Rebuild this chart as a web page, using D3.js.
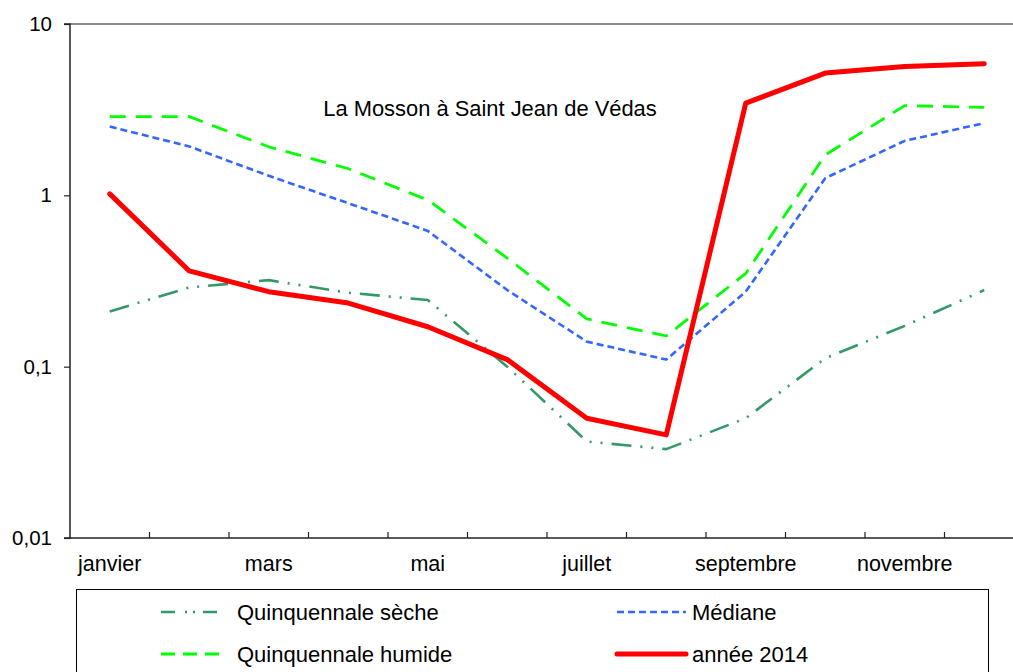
<!DOCTYPE html>
<html><head><meta charset="utf-8">
<script src="https://cdn.jsdelivr.net/npm/d3@7"></script>
<style>
html,body{margin:0;padding:0;background:#fff;overflow:hidden;}
text{font-family:"Liberation Sans",Arial,sans-serif;fill:#000;}
</style></head>
<body><svg id="c" width="1013" height="672"></svg>
<script>
const months = ["janvier","février","mars","avril","mai","juin","juillet","août","septembre","octobre","novembre","décembre"];
const monthLabels = ["janvier","","mars","","mai","","juillet","","septembre","","novembre",""];
const yTicks = [0.01, 0.1, 1, 10];
const yTickLabels = ["0,01","0,1","1","10"];
const seche = [0.21, 0.29, 0.32, 0.27, 0.245, 0.10, 0.0366, 0.033, 0.050, 0.112, 0.173, 0.28];
const mediane = [2.52, 1.93, 1.30, 0.90, 0.62, 0.28, 0.14, 0.11, 0.274, 1.26, 2.08, 2.64];
const humide = [2.88, 2.88, 1.92, 1.43, 0.94, 0.43, 0.19, 0.151, 0.35, 1.72, 3.34, 3.26];
const annee2014 = [1.02, 0.362, 0.274, 0.235, 0.171, 0.110, 0.050, 0.040, 3.45, 5.17, 5.65, 5.86];
const title = "La Mosson à Saint Jean de Védas";

const svg = d3.select("#c");
const pL = 70, pR = 1024, pT = 24, pB = 538;

const x = d3.scaleBand().domain(months).range([pL, pR]).paddingInner(0).paddingOuter(0);
const y = d3.scaleLog().domain([0.01, 10]).range([pB, pT]);
const cx = m => x(m) + x.bandwidth()/2;

// top border
svg.append("line").attr("x1", pL).attr("x2", 1013).attr("y1", pT).attr("y2", pT)
  .attr("stroke", "#8c8c8c").attr("stroke-width", 2);

// y axis
const yAxis = d3.axisLeft(y).tickValues(yTicks).tickSize(6).tickPadding(10)
  .tickFormat((d,i) => yTickLabels[i]);
const gy = svg.append("g").attr("transform", `translate(${pL},0)`).call(yAxis);
gy.select(".domain").attr("stroke", "#222").attr("stroke-width", 1.5).attr("d", `M-6,${pT}H0V${pB}H-6`);
gy.selectAll(".tick line").attr("stroke", "#222").attr("stroke-width", 1.2);
gy.selectAll(".tick text").attr("font-size", 20.5).attr("font-family", "Liberation Sans, Arial, sans-serif").attr("fill", "#000").attr("dx", -2);

// x axis
const gx = svg.append("g").attr("transform", `translate(0,${pB})`);
gx.append("line").attr("x1", pL).attr("x2", 1013).attr("y1", 0).attr("y2", 0)
  .attr("stroke", "#222").attr("stroke-width", 1.5);
const boundaries = months.map(m => x(m)).concat([x(months[11]) + x.bandwidth()]);
gx.selectAll("line.tk").data(boundaries.slice(1)).enter().append("line").attr("class","tk")
  .attr("x1", d => d).attr("x2", d => d).attr("y1", 0).attr("y2", -6)
  .attr("stroke", "#222").attr("stroke-width", 1.2);
gx.selectAll("text.ml").data(months).enter().append("text").attr("class","ml")
  .attr("x", d => cx(d)).attr("y", 33).attr("text-anchor", "middle").attr("font-size", 21.5)
  .text((d,i) => monthLabels[i]);

// title
svg.append("text").attr("x", 490).attr("y", 116).attr("text-anchor", "middle")
  .attr("font-size", 21.9).text(title);

const line = d3.line().x((d,i) => cx(months[i])).y(d => y(d));
const series = [
  {name:"Quinquennale sèche", data:seche, color:"#339966", width:2.6, dash:"20,9,2,9,2,9"},
  {name:"Médiane", data:mediane, color:"#3366ff", width:2.6, dash:"7,4"},
  {name:"Quinquennale humide", data:humide, color:"#00ff00", width:2.8, dash:"16,10"},
  {name:"année 2014", data:annee2014, color:"#ff0000", width:5, dash:null}
];
series.forEach(s => {
  svg.append("path").datum(s.data).attr("d", line).attr("fill","none")
    .attr("stroke", s.color).attr("stroke-width", s.width)
    .attr("stroke-dasharray", s.dash).attr("stroke-linejoin","round")
    .attr("stroke-linecap", s.dash ? "butt" : "round");
});

// legend
svg.append("rect").attr("x", 76.5).attr("y", 589.5).attr("width", 912).attr("height", 120)
  .attr("fill", "none").attr("stroke", "#000").attr("stroke-width", 1);
const legPos = [
  {lx:161, ty:612, tx:237},
  {lx:617, ty:612, tx:692},
  {lx:161, ty:654, tx:237},
  {lx:617, ty:654, tx:692}
];
series.forEach((s, i) => {
  const p = legPos[i];
  const len = 69;
  let dash = s.dash;
  if (i === 0) dash = "14,10,2,6,2,8,14";
  if (i === 2) dash = "14,8,14,8,14";
  svg.append("line").attr("x1", p.lx).attr("x2", p.lx + len).attr("y1", p.ty).attr("y2", p.ty)
    .attr("stroke", s.color).attr("stroke-width", s.width).attr("stroke-dasharray", dash)
    .attr("stroke-linecap", s.dash ? "butt" : "round");
  svg.append("text").attr("x", p.tx).attr("y", p.ty + 7.5).attr("font-size", 22).text(s.name);
});
</script></body></html>
